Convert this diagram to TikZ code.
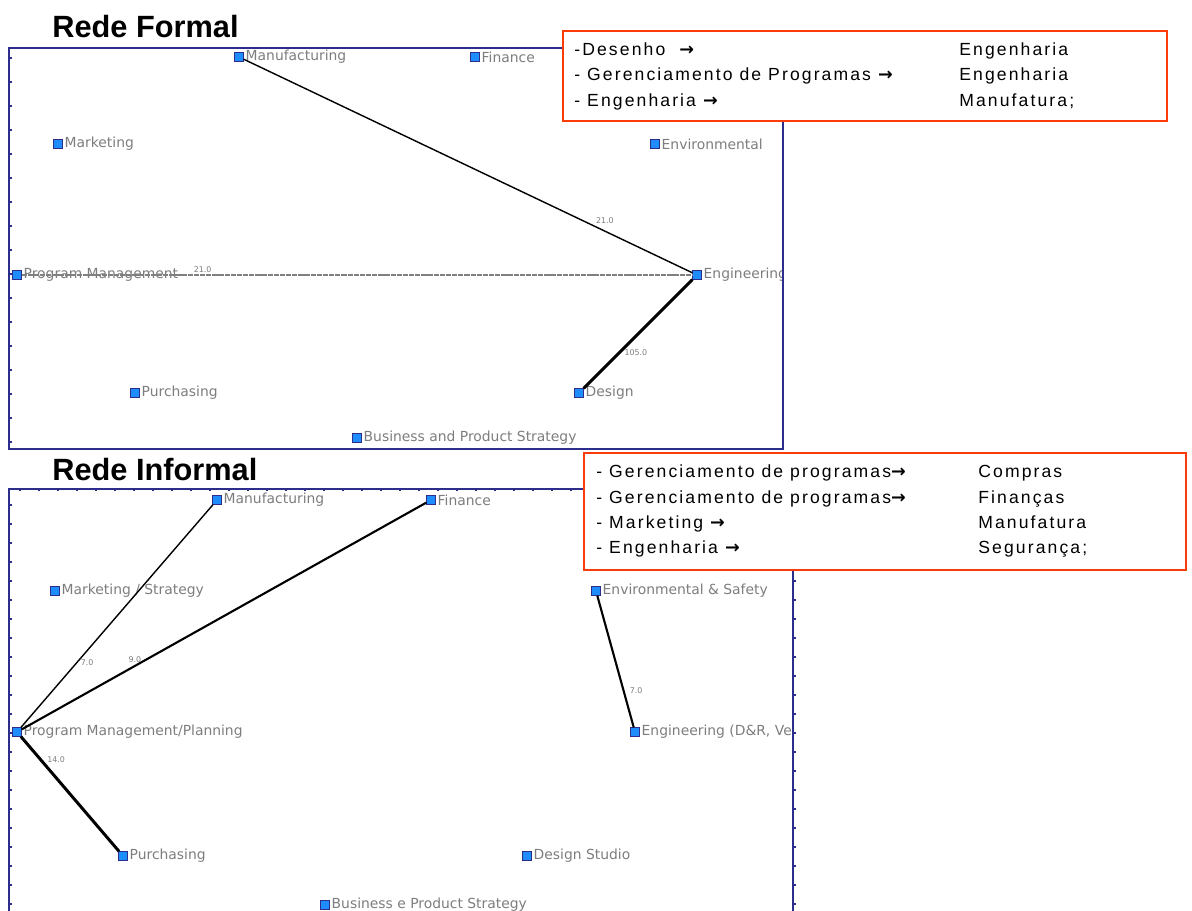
\documentclass[tikz,border=0pt]{standalone}
\usepackage{fontspec}
\setmainfont{Liberation Sans}
\newfontfamily\plotfont{DejaVu Sans}
\newfontfamily\arrowfont{DejaVu Sans}
\newfontfamily\boxfont[LetterSpace=12]{Liberation Sans}
\usepackage{xcolor}
\usepackage{tikz}
\usetikzlibrary{positioning}

\definecolor{panelblue}{RGB}{45,45,140}
\definecolor{boxred}{RGB}{250,60,10}
\definecolor{nodeblue}{RGB}{30,140,250}
\definecolor{labelgray}{RGB}{125,125,125}
\newcommand{\toarrow}{{\arrowfont\bfseries →}}

\begin{document}
\begin{tikzpicture}[
    x=0.02cm, y=-0.02cm,
    node distance=1pt,
    vertex/.style={draw=panelblue, fill=nodeblue, rectangle, minimum size=0.17cm, inner sep=0pt, line width=0.4pt},
    vlabel/.style={font=\plotfont\fontsize{7.9}{9}\selectfont, text=labelgray, inner sep=0pt},
    elabel/.style={font=\plotfont\fontsize{4.5}{5}\selectfont, text=labelgray, inner sep=1pt},
    panel/.style={draw=panelblue, line width=0.7pt},
    tick/.style={draw=panelblue, line width=0.8pt},
    infobox/.style={draw=boxred, fill=white, line width=1.1pt, anchor=north west, inner sep=0pt},
    rowtxt/.style={font=\boxfont\fontsize{10}{12}\selectfont, anchor=base west, inner sep=0pt},
    title/.style={font=\fontsize{17.5}{20}\selectfont\bfseries, anchor=base west, inner sep=0pt},
    weaklink/.style={draw, line width=0.8pt},
    midlink/.style={draw, line width=1.2pt},
    stronglink/.style={draw, line width=1.7pt},
    graylink/.style={draw=gray, line width=1.1pt, dash pattern=on 3pt off 0.5pt}
]
    \useasboundingbox (0,0) rectangle (1192,911);

    % Titles
    \node[title] (formalT) at (52,38) {Rede Formal};
    \node[title] (informalT) at (52,480) {Rede Informal};

    % Formal network
    \begin{scope}
        \clip (9,48) rectangle (783,449);
        \node[vertex] (mfgF) at (239,57) {};
        \node[vertex] (finF) at (475,57) {};
        \node[vertex] (mktF) at (58,144) {};
        \node[vertex] (envF) at (655,144) {};
        \node[vertex] (pmF) at (17,275) {};
        \node[vertex] (engF) at (697,275) {};
        \node[vertex] (purF) at (135,393) {};
        \node[vertex] (desF) at (579,393) {};
        \node[vertex] (bpsF) at (357,438) {};

        \node[vlabel, right=of mfgF] {Manufacturing};
        \node[vlabel, right=of finF] {Finance};
        \node[vlabel, right=of mktF] {Marketing};
        \node[vlabel, right=of envF] {Environmental};
        \node[vlabel, right=of pmF] {Program Management};
        \node[vlabel, right=of engF] {Engineering};
        \node[vlabel, right=of purF] {Purchasing};
        \node[vlabel, right=of desF] {Design};
        \node[vlabel, right=of bpsF] {Business and Product Strategy};

        % Lines
        \draw[weaklink] (mfgF) -- (engF) node[elabel, pos=0.78, above right=0pt] {21.0};
        \draw[graylink] (pmF) -- (engF) node[elabel, pos=0.27, above=0pt] {21.0};
        \draw[stronglink] (desF) -- (engF) node[elabel, pos=0.33, right=1pt] {105.0};
    \end{scope}
    \draw[panel] (9,48) rectangle (783,449);
    \foreach \ty in {58,82,...,449}
        \draw[tick] (9,\ty) -- ++(3,0);

    % Informal network
    \begin{scope}
        \clip (9,489) rectangle (793,911);
        \node[vertex] (mfgI) at (217,500) {};
        \node[vertex] (finI) at (431,500) {};
        \node[vertex] (mktI) at (55,591) {};
        \node[vertex] (envI) at (596,591) {};
        \node[vertex] (pmI) at (17,732) {};
        \node[vertex] (engI) at (635,732) {};
        \node[vertex] (purI) at (123,856) {};
        \node[vertex] (desI) at (527,856) {};
        \node[vertex] (bpsI) at (325,905) {};

        \node[vlabel, right=of mfgI] {Manufacturing};
        \node[vlabel, right=of finI] {Finance};
        \node[vlabel, right=of mktI] {Marketing / Strategy};
        \node[vlabel, right=of envI] {Environmental \& Safety};
        \node[vlabel, right=of pmI] {Program Management/Planning};
        \node[vlabel, right=of engI] {Engineering (D\&R, Vehicle};
        \node[vlabel, right=of purI] {Purchasing};
        \node[vlabel, right=of desI] {Design Studio};
        \node[vlabel, right=of bpsI] {Business e Product Strategy};

        % Lines
        \draw[weaklink] (pmI) -- (mfgI) node[elabel, pos=0.29, right=1pt] {7.0};
        \draw[midlink] (pmI) -- (finI) node[elabel, pos=0.28, above=0pt] {9.0};
        \draw[stronglink] (pmI) -- (purI) node[elabel, pos=0.2, right=2pt] {14.0};
        \draw[midlink] (envI) -- (engI) node[elabel, pos=0.72, right=2pt] {7.0};
    \end{scope}
    \draw[panel] (9,489) rectangle (793,940);
    \foreach \ty in {505,524,...,911}
        \draw[tick] (9,\ty) -- ++(3,0);
    \foreach \ty in {505,524,...,911}
        \draw[tick] (793,\ty) -- ++(3,0);
    \foreach \tx in {20,39,...,793}
        \draw[tick] (\tx,489) -- ++(0,2);

    % Formal relations
    \node[infobox, minimum width=12.08cm, minimum height=1.8cm] (formalBox) at (562,30) {};
    \node[rowtxt] at (574,56) {-Desenho\ \ \toarrow};
    \node[rowtxt] at (959,56) {Engenharia};
    \node[rowtxt] at (574,81) {- Gerenciamento de Programas \toarrow};
    \node[rowtxt] at (959,81) {Engenharia};
    \node[rowtxt] at (574,107) {- Engenharia \toarrow};
    \node[rowtxt] at (959,107) {Manufatura;};

    % Informal relations
    \node[infobox, minimum width=12.04cm, minimum height=2.34cm] (informalBox) at (583,452) {};
    \node[rowtxt] at (596,478) {- Gerenciamento de programas\toarrow};
    \node[rowtxt] at (978,478) {Compras};
    \node[rowtxt] at (596,503) {- Gerenciamento de programas\toarrow};
    \node[rowtxt] at (978,503) {Finanças};
    \node[rowtxt] at (596,528) {- Marketing \toarrow};
    \node[rowtxt] at (978,528) {Manufatura};
    \node[rowtxt] at (596,553) {- Engenharia \toarrow};
    \node[rowtxt] at (978,553) {Segurança;};

\end{tikzpicture}
\end{document}
